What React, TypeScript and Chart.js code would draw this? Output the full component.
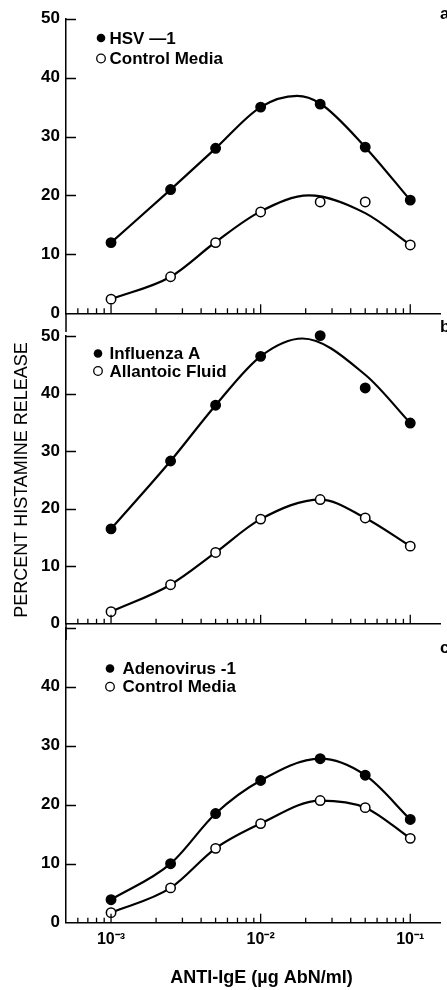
import React, { useEffect, useRef } from 'react';
import { Chart, registerables } from 'chart.js';

Chart.register(...registerables);

const FONT = '"Liberation Sans", Arial, Helvetica, sans-serif';

// ---- data ----
const doses = [0.001, 0.0025, 0.005, 0.01, 0.025, 0.05, 0.1];

// panel a
const hsv1 = [12, 21, 28, 35, 35.5, 28.2, 19.2];
const controlMediaA = [2.4, 6.2, 12, 17.2, 18.9, 18.9, 11.6];
const hsv1CurveX = [0.001, 0.0025, 0.005, 0.01, 0.0175, 0.025, 0.05, 0.1];
const hsv1CurveY = [12, 21, 28, 35, 36.9, 35.6, 28.2, 19.2];
const controlACurveX = [0.001, 0.0025, 0.005, 0.01, 0.021, 0.05, 0.1];
const controlACurveY = [2.4, 6.2, 12.1, 17.3, 20, 17, 11.6];

// panel b
const influenzaA = [16.5, 28.3, 38, 46.5, 50.1, 41, 34.9];
const allantoicFluid = [2.1, 6.8, 12.4, 18.2, 21.6, 18.4, 13.5];
const influenzaCurveX = [0.001, 0.0025, 0.005, 0.01, 0.019, 0.05, 0.1];
const influenzaCurveY = [16.5, 28.3, 38, 46.5, 49.6, 43.3, 34.9];

// panel c
const adenovirus1 = [3.9, 10, 18.5, 24.1, 27.8, 25, 17.5];
const controlMediaC = [1.7, 5.9, 12.6, 16.8, 20.7, 19.5, 14.3];

// ---- ticks & labels ----
const yTickValues = [0, 10, 20, 30, 40, 50];
const xTickValues = [0.001, 0.01, 0.1];
const xTickLabels = ['10⁻³', '10⁻²', '10⁻¹'];
const xTitle = 'ANTI-IgE (µg AbN/ml)';
const yTitle = 'PERCENT HISTAMINE RELEASE';
const labelsA = ['HSV —1', 'Control Media'];
const labelsB = ['Influenza A', 'Allantoic Fluid'];
const labelsC = ['Adenovirus -1', 'Control Media'];
const panelLetters = ['a', 'b', 'c'];

const X_MIN = 5e-4;
const X_MAX = 0.16;

function xy(xs: number[], ys: number[]) {
  return xs.map((x, i) => ({ x, y: ys[i] }));
}

interface PointSeries { label: string; values: number[]; filled: boolean; line: boolean }
interface CurveSeries { x: number[]; y: number[] }
interface PanelSpec {
  top: number;
  height: number;
  padTop: number;
  xAxisHeight: number;
  points: PointSeries[];
  curves: CurveSeries[];
  legend: { markerX: number; textX: number; rows: number[] };
  letter: string;
  letterY: number;
  extendAxis: boolean;
  showXLabels: boolean;
  showYTitle: boolean;
  hideTop: boolean;
}

function makeDecor(spec: PanelSpec) {
  return {
    id: 'decor' + spec.letter,
    afterDraw(chart: any) {
      const { ctx, chartArea, scales } = chart;
      const xs = scales.x;
      const ys = scales.y;
      ctx.save();
      ctx.strokeStyle = '#000';
      ctx.fillStyle = '#000';
      ctx.lineWidth = 1.5;
      // inward y ticks
      for (const v of yTickValues) {
        if (v === 0) continue;
        const py = Math.round(ys.getPixelForValue(v)) + 0.5;
        ctx.beginPath();
        ctx.moveTo(chartArea.left, py);
        ctx.lineTo(chartArea.left + 10, py);
        ctx.stroke();
      }
      // inward log x ticks
      ctx.lineWidth = 1.3;
      for (let d = -4; d <= -1; d++) {
        for (let m = 1; m <= 9; m++) {
          const v = m * Math.pow(10, d);
          if (v < X_MIN || v > X_MAX) continue;
          const px = xs.getPixelForValue(v);
          if (px <= chartArea.left + 2 || px >= chartArea.right) continue;
          const len = m === 1 ? 9 : 5;
          ctx.beginPath();
          ctx.moveTo(px, chartArea.bottom);
          ctx.lineTo(px, chartArea.bottom - len);
          ctx.stroke();
        }
      }
      // axis extension below
      if (spec.extendAxis) {
        ctx.lineWidth = 1.5;
        ctx.beginPath();
        ctx.moveTo(chartArea.left, chartArea.bottom);
        ctx.lineTo(chartArea.left, chart.height);
        ctx.stroke();
      }
      // legend
      ctx.font = `bold 17px ${FONT}`;
      ctx.textBaseline = 'middle';
      ctx.textAlign = 'left';
      spec.points.forEach((p, i) => {
        const y = spec.legend.rows[i];
        ctx.beginPath();
        ctx.arc(spec.legend.markerX, y, 4.3, 0, Math.PI * 2);
        if (p.filled) {
          ctx.fillStyle = '#000';
          ctx.fill();
        } else {
          ctx.fillStyle = '#fff';
          ctx.fill();
          ctx.lineWidth = 1.3;
          ctx.stroke();
        }
        ctx.fillStyle = '#000';
        ctx.fillText(p.label, spec.legend.textX, y + 1);
      });
      // panel letter
      ctx.fillText(spec.letter, 440, spec.letterY);
      // x title
      if (spec.showXLabels) {
        ctx.font = `bold 18px ${FONT}`;
        ctx.textAlign = 'center';
        ctx.fillText(xTitle, 261.5, 978 - spec.top);
      }
      ctx.restore();
    },
  };
}

function Panel({ spec }: { spec: PanelSpec }) {
  const ref = useRef<HTMLCanvasElement>(null);
  useEffect(() => {
    const canvas = ref.current as HTMLCanvasElement;
    const datasets: any[] = [];
    spec.points.forEach((p) => {
      datasets.push({
        label: p.label,
        data: xy(doses, p.values),
        showLine: p.line,
        order: 0,
        clip: false,
        borderColor: '#000',
        borderWidth: 2.2,
        cubicInterpolationMode: 'monotone',
        pointRadius: 4.7,
        pointHoverRadius: 4.7,
        pointBorderWidth: 1.5,
        pointBorderColor: '#000',
        pointBackgroundColor: p.filled ? '#000' : '#fff',
        fill: false,
      });
    });
    spec.curves.forEach((c) => {
      datasets.push({
        label: '',
        data: xy(c.x, c.y),
        showLine: true,
        order: 1,
        clip: false,
        borderColor: '#000',
        borderWidth: 2.2,
        cubicInterpolationMode: 'monotone',
        pointRadius: 0,
        pointHoverRadius: 0,
        fill: false,
      });
    });
    const chart = new Chart(canvas, {
      type: 'line',
      data: { datasets },
      options: {
        responsive: false,
        animation: false,
        devicePixelRatio: 1,
        events: [],
        layout: { padding: { top: spec.padTop, right: 3, left: 0, bottom: 0 } },
        plugins: { legend: { display: false }, tooltip: { enabled: false } },
        scales: {
          x: {
            type: 'logarithmic',
            min: X_MIN,
            max: X_MAX,
            position: 'bottom',
            afterBuildTicks: (s: any) => {
              s.ticks = xTickValues.map((v) => ({ value: v }));
            },
            afterFit: (s: any) => {
              s.height = spec.xAxisHeight;
            },
            grid: { display: false, drawTicks: false },
            border: { display: true, color: '#000', width: 1.5 },
            ticks: {
              display: spec.showXLabels,
              autoSkip: false,
              maxRotation: 0,
              padding: 7,
              color: '#000',
              font: { family: FONT, size: 16, weight: 'bold' },
              callback: (v: any) => {
                const i = xTickValues.indexOf(Number(v));
                return i >= 0 ? xTickLabels[i] : '';
              },
            },
          },
          y: {
            type: 'linear',
            min: 0,
            max: 50,
            afterBuildTicks: (s: any) => {
              s.ticks = yTickValues.map((v) => ({ value: v }));
            },
            afterFit: (s: any) => {
              s.width = 66;
            },
            grid: { display: false, drawTicks: false },
            border: { display: true, color: '#000', width: 1.5 },
            ticks: {
              padding: 6,
              color: '#000',
              font: { family: FONT, size: 17, weight: 'bold' },
              callback: (v: any) => (spec.hideTop && Number(v) === 50 ? '' : String(v)),
            },
            title: {
              display: spec.showYTitle,
              text: yTitle,
              color: '#000',
              font: { family: FONT, size: 18 },
              padding: { top: 11, bottom: 0 },
            },
          },
        },
      } as any,
      plugins: [makeDecor(spec)],
    });
    return () => chart.destroy();
  }, []);
  return (
    <canvas
      ref={ref}
      width={447}
      height={spec.height}
      style={{ position: 'absolute', left: 0, top: spec.top, width: 447, height: spec.height }}
    />
  );
}

const panelA: PanelSpec = {
  top: 0,
  height: 332,
  padTop: 18.7,
  xAxisHeight: 18.7,
  points: [
    { label: labelsA[0], values: hsv1, filled: true, line: false },
    { label: labelsA[1], values: controlMediaA, filled: false, line: false },
  ],
  curves: [
    { x: hsv1CurveX, y: hsv1CurveY },
    { x: controlACurveX, y: controlACurveY },
  ],
  legend: { markerX: 101, textX: 109.5, rows: [38, 58.5] },
  letter: panelLetters[0],
  letterY: 14,
  extendAxis: true,
  showXLabels: false,
  showYTitle: false,
  hideTop: false,
};

const panelB: PanelSpec = {
  top: 320,
  height: 320,
  padTop: 14.7,
  xAxisHeight: 9.3,
  points: [
    { label: labelsB[0], values: influenzaA, filled: true, line: false },
    { label: labelsB[1], values: allantoicFluid, filled: false, line: true },
  ],
  curves: [{ x: influenzaCurveX, y: influenzaCurveY }],
  legend: { markerX: 98, textX: 109.5, rows: [33.5, 51] },
  letter: panelLetters[1],
  letterY: 7,
  extendAxis: true,
  showXLabels: false,
  showYTitle: true,
  hideTop: false,
};

const panelC: PanelSpec = {
  top: 610,
  height: 380,
  padTop: 17.7,
  xAxisHeight: 67.3,
  points: [
    { label: labelsC[0], values: adenovirus1, filled: true, line: true },
    { label: labelsC[1], values: controlMediaC, filled: false, line: true },
  ],
  curves: [],
  legend: { markerX: 110, textX: 122.5, rows: [58.5, 76.7] },
  letter: panelLetters[2],
  letterY: 38,
  extendAxis: false,
  showXLabels: true,
  showYTitle: false,
  hideTop: true,
};

export default function App() {
  return (
    <div style={{ position: 'absolute', left: 0, top: 0, width: 447, height: 990, background: '#fff', overflow: 'hidden' }}>
      <Panel spec={panelA} />
      <Panel spec={panelB} />
      <Panel spec={panelC} />
    </div>
  );
}
